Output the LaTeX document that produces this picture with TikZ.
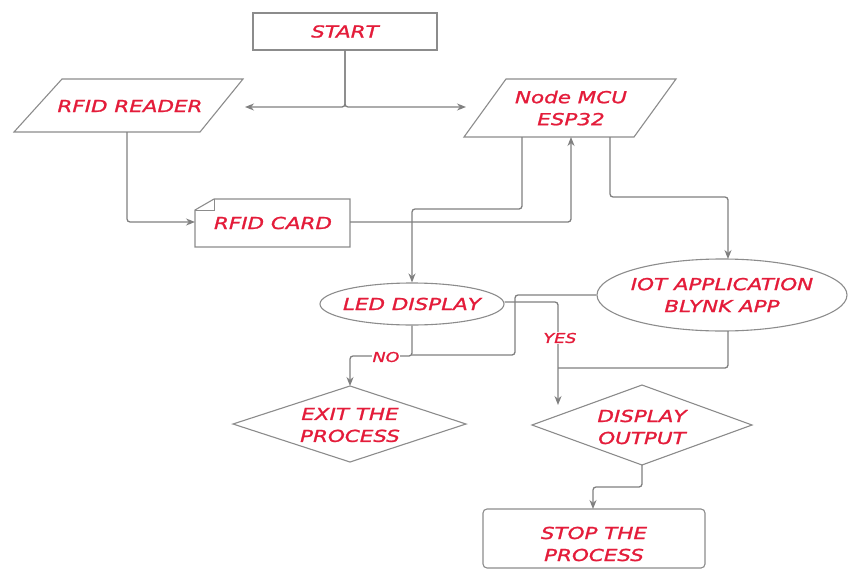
\documentclass[tikz,border=0pt]{standalone}
\usepackage{fontspec}
\usetikzlibrary{shapes.geometric,arrows.meta}
\newfontfamily\lblfont[FakeStretch=1.30,FakeBold=1.3]{DejaVu Sans}
\definecolor{txtred}{RGB}{228,28,58}
\definecolor{linegray}{RGB}{128,128,128}
\definecolor{shapegray}{RGB}{140,140,140}
\begin{document}
\begin{tikzpicture}[x=1pt,y=-1pt,
  line/.style={draw=linegray, line width=1.3pt, rounded corners=3pt},
  arr/.style={line, -{Stealth[length=9pt,width=7pt]}},
  outline/.style={draw=shapegray, line width=1.1pt},
  txt/.style={text=txtred, font=\lblfont\itshape\fontsize{16.5}{22}\selectfont, align=center, inner sep=0pt},
  small/.style={text=txtred, font=\lblfont\itshape\fontsize{13.5}{16}\selectfont, fill=white, inner sep=1pt}]
\useasboundingbox (0,0) rectangle (848,570);
\fill[white] (0,0) rectangle (848,570);
% shapes
\node[outline, minimum width=184pt, minimum height=37pt, inner sep=0pt] (start) at (345,31.5) {};
\node[txt] at (start) {START};
\draw[outline] (62,79) -- (243,79) -- (200,132) -- (14,132) -- cycle;
\node[txt] (reader) at (130,106) {RFID READER};
\draw[outline] (506,79) -- (676,79) -- (634,137) -- (464,137) -- cycle;
\node[txt] (mcu) at (571,108) {Node MCU\\ESP32};
\draw[outline] (214,199) -- (350,199) -- (350,247) -- (195,247) -- (195,210) -- cycle;
\draw[outline, line width=0.8pt] (214,199) -- (214,210) -- (195,210);
\node[txt] (card) at (273,223) {RFID CARD};
\node[outline, ellipse, minimum width=184pt, minimum height=42pt, inner sep=0pt] (led) at (412,304) {};
\node[txt] at (led) {LED DISPLAY};
\node[outline, ellipse, minimum width=250pt, minimum height=72pt, inner sep=0pt] (iot) at (722,295) {};
\node[txt] at (iot) {IOT APPLICATION\\BLYNK APP};
\draw[outline] (233,424) -- (350,386) -- (466,424) -- (350,462) -- cycle;
\node[txt] (exit) at (350,425) {EXIT THE\\PROCESS};
\draw[outline] (532,425) -- (642,385) -- (752,425) -- (642,465) -- cycle;
\node[txt] (disp) at (642,427) {DISPLAY\\OUTPUT};
\draw[outline, rounded corners=4pt] (483,509) rectangle (705,568);
\node[txt] (stop) at (594,544) {STOP THE\\PROCESS};
% connectors
\draw[arr] (start.south) |- (245,107);
\draw[arr] (start.south) |- (466,107);
\draw[arr] (127,132) |- (195,222);
\draw[arr] (350,222) -| (571,137);
\draw[arr] (522,137) -- (522,209) -- (412,209) -- (led.north);
\draw[arr] (610,137) -- (610,197) -- (728,197) -- (728,259);
\draw[line] (iot.west) -- (515,295) -- (515,355) -- (412,355);
\draw[arr] (led.south) -- (412,356) -- (350,356) -- (350,386);
\node[small] (no) at (386,357) {NO};
\draw[arr] (led.east |- 412,302) -- (558,302) -- (558,405);
\draw[line] (728,331) -- (728,368) -- (558,368);
\node[small] (yes) at (560,338) {YES};
\draw[arr] (642,465) -- (642,487) -- (593,487) -- (593,509);
\end{tikzpicture}
\end{document}
